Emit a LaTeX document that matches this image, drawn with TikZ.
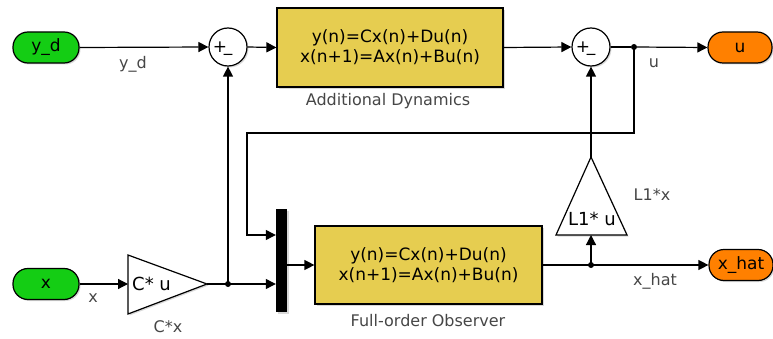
\documentclass[tikz,border=0pt]{standalone}
\usepackage{fontspec}
\setmainfont{DejaVu Sans}
\usetikzlibrary{arrows.meta,shadows}
\definecolor{ingreen}{RGB}{20,205,20}
\definecolor{outorange}{RGB}{255,128,0}
\definecolor{blkyellow}{RGB}{230,205,80}
\definecolor{lblgray}{RGB}{70,70,70}
\tikzset{
  port/.style={draw=black, line width=1.2pt, rounded corners=15pt, minimum width=66pt, minimum height=31pt, inner sep=0pt, font=\fontsize{17}{20}\selectfont, drop shadow={shadow xshift=1.5pt, shadow yshift=-1.5pt, opacity=0.3}},
  inport/.style={port, fill=ingreen},
  outport/.style={port, fill=outorange},
  ssblock/.style={draw=black, line width=1.2pt, fill=blkyellow, inner sep=0pt, align=center, font=\fontsize{17}{20}\selectfont, drop shadow={shadow xshift=2pt, shadow yshift=-2pt, opacity=0.3}},
  sumblk/.style={circle, draw=black, line width=1.2pt, fill=white, minimum size=38pt, inner sep=0pt, drop shadow={shadow xshift=1.5pt, shadow yshift=-1.5pt, opacity=0.3}},
  lbl/.style={text=lblgray, font=\fontsize{16}{18}\selectfont, inner sep=0pt},
  wire/.style={line width=1.2pt, draw=black},
  sig/.style={wire, -{Triangle[length=10pt,width=10pt]}},
  jdot/.style={circle, fill=black, minimum size=6pt, inner sep=0pt},
  gaintxt/.style={font=\fontsize{18}{20}\selectfont, inner sep=0pt}
}
\begin{document}
\begin{tikzpicture}[x=1pt,y=-1pt]
\useasboundingbox (0,0) rectangle (773,339);
% ports
\node[inport] (yd) at (46,47.5) {y\_d};
\node[inport] (xin) at (46,284) {x};
\node[outport, minimum width=64pt] (u) at (740,47.5) {u};
\node[outport, minimum width=64pt] (xhat) at (741,265) {x\_hat};
% sums
\node[sumblk] (s1) at (228,47) {};
\node[sumblk] (s2) at (591,47) {};
\foreach \s in {s1,s2}{
  \node[font=\fontsize{17}{20}\selectfont, inner sep=0pt] at ([xshift=-8pt]\s.center) {+};
  \node[font=\fontsize{17}{20}\selectfont, inner sep=0pt] at ([xshift=0pt,yshift=-7pt]\s.center) {\_};
}
% state space blocks
\node[ssblock, minimum width=226pt, minimum height=79pt] (ad) at (390,47.5) {y(n)=Cx(n)+Du(n)\\x(n+1)=Ax(n)+Bu(n)};
\node[lbl] at (388,101) {Additional Dynamics};
\node[ssblock, minimum width=227pt, minimum height=78pt] (obs) at (428.5,265) {y(n)=Cx(n)+Du(n)\\x(n+1)=Ax(n)+Bu(n)};
\node[lbl] at (428,321) {Full-order Observer};
% mux
\node[fill=black, minimum width=11pt, minimum height=103pt, inner sep=0pt, drop shadow={shadow xshift=2pt, shadow yshift=-2pt, opacity=0.3}] (mux) at (281.5,260.5) {};
% gain C
\coordinate (cl) at (128,284);
\coordinate (ca) at (207,284);
\draw[line width=1.2pt, fill=white, drop shadow={shadow xshift=1.5pt, shadow yshift=-1.5pt, opacity=0.3}] (128,255) -- (207,284) -- (128,314) -- cycle;
\node[gaintxt, anchor=west] at (132,284) {C* u};
\node[lbl] at (168,327) {C*x};
% gain L1
\coordinate (lb) at (591,235);
\coordinate (la) at (591,157);
\draw[line width=1.2pt, fill=white, drop shadow={shadow xshift=1.5pt, shadow yshift=-1.5pt, opacity=0.3}] (556,235) -- (591,157) -- (627,235) -- cycle;
\node[gaintxt] at (592,219) {L1* u};
\node[lbl] at (652,195) {L1*x};
% junctions
\node[jdot] (ju) at (634,47) {};
\node[jdot] (jc) at (228,284) {};
\node[jdot] (jx) at (591,265) {};
% wires
\draw[sig] (yd.east) -- (s1.west);
\node[lbl] at (133,64) {y\_d};
\draw[sig] (s1.east) -- (ad.west);
\draw[sig] (ad.east) -- (s2.west);
\draw[wire] (s2.east) -- (ju);
\draw[sig] (ju) -- (u.west);
\node[lbl] at (654,63) {u};
\draw[sig] (ju.center) -- (634,133) -- (247,133) -- (247,235) -- (mux.west |- 0,235);
\draw[sig] (xin.east) -- (cl);
\node[lbl] at (93,298) {x};
\draw[wire] (ca) -- (jc.center);
\draw[sig] (jc.center) -- (mux.west |- jc);
\draw[sig] (jc.center) -- (s1.south);
\draw[sig] (mux.east |- obs.west) -- (obs.west);
\draw[wire] (obs.east) -- (jx.center);
\draw[sig] (jx.center) -- (xhat.west);
\node[lbl] at (655,281) {x\_hat};
\draw[sig] (jx.center) -- (lb);
\draw[sig] (la) -- (s2.south);
\end{tikzpicture}
\end{document}
